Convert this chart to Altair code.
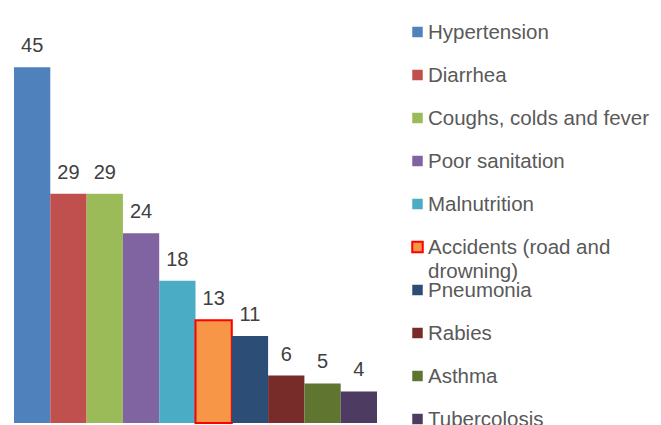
import altair as alt
import pandas as pd

categories = ["Hypertension", "Diarrhea", "Coughs, colds and fever", "Poor sanitation",
              "Malnutrition", "Accidents (road and drowning)", "Pneumonia", "Rabies",
              "Asthma", "Tubercolosis"]
values = [45, 29, 29, 24, 18, 13, 11, 6, 5, 4]
colors = ["#4F81BD", "#C0504D", "#9BBB59", "#8064A2", "#4BACC6",
          "#F79646", "#2C4D75", "#772C2A", "#5F7530", "#4D3B62"]
legend_labels = ["Hypertension", "Diarrhea", "Coughs, colds and fever", "Poor sanitation",
                 "Malnutrition", "Accidents (road and\ndrowning)", "Pneumonia", "Rabies",
                 "Asthma", "Tubercolosis"]
highlight = "Accidents (road and drowning)"

df = pd.DataFrame({"category": categories, "value": values, "label": legend_labels})

FONT = "Liberation Sans"
color = alt.Color("category:N", scale=alt.Scale(domain=categories, range=colors), legend=None)
is_hl = alt.datum.category == highlight
stroke = alt.condition(is_hl, alt.value("#FF0000"), alt.value("transparent"))
stroke_w = alt.condition(is_hl, alt.value(2), alt.value(0))

x = alt.X("category:N", sort=categories, axis=None,
          scale=alt.Scale(paddingInner=0, paddingOuter=0))
y = alt.Y("value:Q", axis=None, scale=alt.Scale(domain=[0, 52.5], nice=False))

base = alt.Chart(df)
bars = base.mark_bar().encode(x=x, y=y, color=color, stroke=stroke, strokeWidth=stroke_w)
labels = base.mark_text(dy=-15, fontSize=20, color="#404040", font=FONT,
                        baseline="alphabetic").encode(x=x, y=y, text="value:Q")
left = alt.layer(bars, labels).properties(width=363, height=415)

ly = alt.Y("category:N", sort=categories, axis=None,
           scale=alt.Scale(type="point", range=[24, 411], padding=0))
leg_sq = base.mark_square(size=110, opacity=1).encode(
    x=alt.value(10.5), y=ly, color=color, stroke=stroke, strokeWidth=stroke_w)
leg_txt = base.mark_text(align="left", baseline="alphabetic", dy=7.3, fontSize=20.5,
                         color="#595959", font=FONT, lineBreak="\n", lineHeight=24).encode(
    x=alt.value(21), y=ly, text="label:N")
right = alt.layer(leg_sq, leg_txt).properties(width=230, height=415)

chart = alt.hconcat(left, right, spacing=30).properties(
    padding={"left": 6, "top": 0, "right": 0, "bottom": 0}
).configure_view(stroke=None)

chart.save("out.html", embed_options={"renderer": "svg", "actions": False})
